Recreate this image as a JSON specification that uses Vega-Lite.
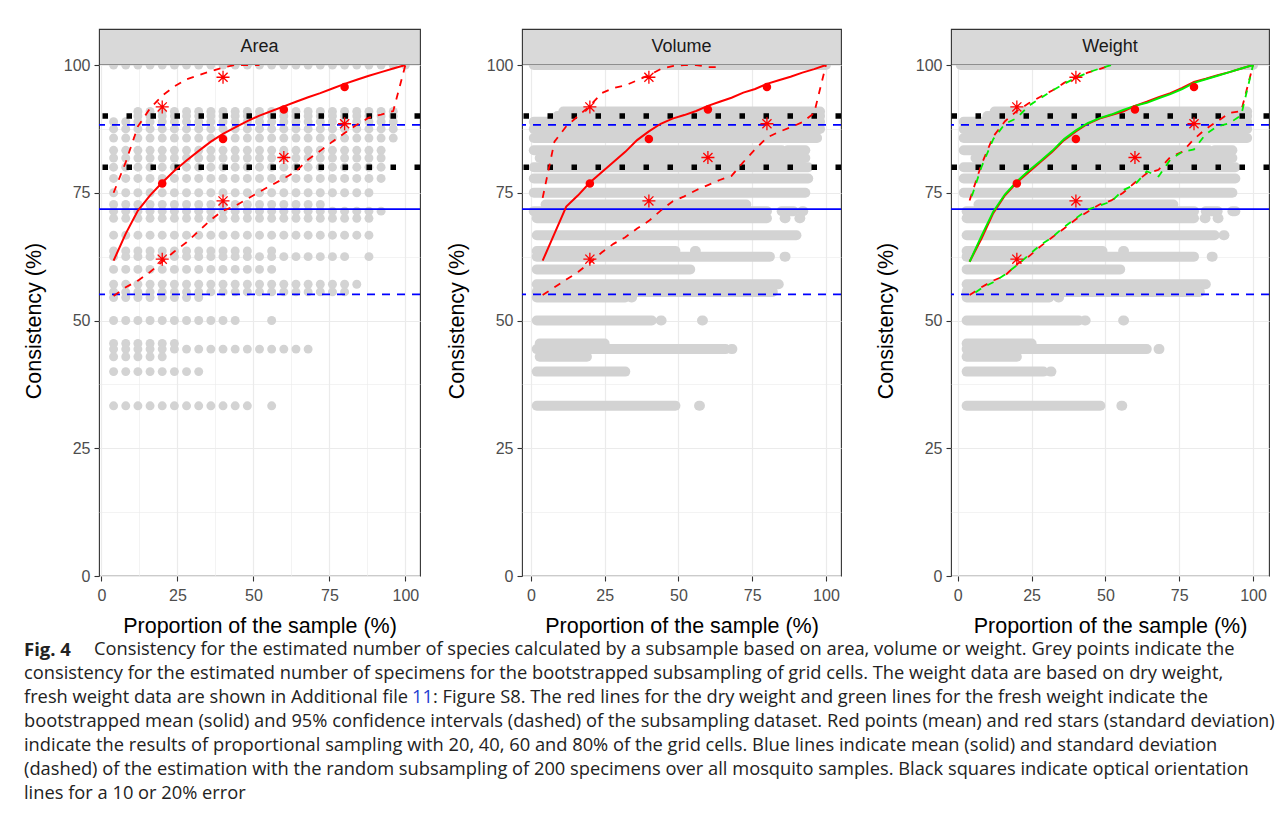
{
  "$schema": "https://vega.github.io/schema/vega-lite/v6.json",
  "background": "white",
  "padding": {"left": 22, "top": 28, "right": 0, "bottom": 0},
  "config": {
    "view": {"stroke": "#333333", "strokeWidth": 1.1},
    "axis": {"domain": false, "gridColor": "#ebebeb", "tickColor": "#333333", "tickSize": 5, "tickWidth": 1.1, "labelFont": "Liberation Sans", "labelFontSize": 16, "labelColor": "#4d4d4d", "labelFlush": false, "titleFont": "Liberation Sans", "titleFontSize": 21.5, "titleFontWeight": "normal", "titleColor": "#000000"},
    "axisY": {"titlePadding": 18, "labelPadding": 4},
    "axisX": {"titlePadding": 12, "labelPadding": 6}
  },
  "datasets": {
    "areaPts": [
      {"c": 100, "x": [4,8,12,16,20,24,28,32,36,40,44,48,52,56,60,64,68,72,76,80,84,88,92,96,100]},
      {"c": 90.9, "x": [12,16,20,24,28,32,36,40,44,48,52,56,60,64,68,72,76,80,84,88,92,96]},
      {"c": 90, "x": [12,16,20,24,28,32,36,40,44,48,52,56,60,64,68,72,76,80,84,88,92,96]},
      {"c": 88.9, "x": [4,8,12,16,20,24,28,32,36,40,44,48,52,56,60,64,68,72,76,80,84,88,92,96]},
      {"c": 87.5, "x": [4,8,12,16,20,24,28,32,36,40,44,48,52,56,60,64,68,72,76,80,84,88,92,96]},
      {"c": 85.7, "x": [4,8,12,16,20,24,28,32,36,40,44,48,52,56,60,64,68,72,76,80,84,88,92,96]},
      {"c": 83.3, "x": [4,8,12,16,20,24,28,32,36,40,44,48,52,56,60,64,68,72,76,80,84,88,92]},
      {"c": 81.8, "x": [4,8,12,16,20,24,28,32,36,40,44,48,52,56,60,64,68,72,76,80,84,88,92]},
      {"c": 80, "x": [4,8,12,16,20,24,28,32,36,40,44,48,52,56,60,64,68,72,76,80,84,88,92]},
      {"c": 77.8, "x": [4,8,12,16,20,24,28,32,36,40,44,48,52,56,60,64,68,72,76,80,84,88,92]},
      {"c": 75, "x": [4,8,12,16,20,24,28,32,36,40,44,48,52,56,60,64,68,72,76,80,84,88]},
      {"c": 72.7, "x": [4,8,12,16,20,24,28,32,36,40,44,48,52,56,60,64,68,72]},
      {"c": 71.4, "x": [4,8,12,16,20,24,28,32,36,40,44,48,52,56,60,64,68,72,76,80,84,88,92]},
      {"c": 70, "x": [4,8,12,16,20,24,28,32,36,40,44,48,52,56,60,64,68,72,76,80,84,88]},
      {"c": 66.7, "x": [4,8,12,16,20,24,28,32,36,40,44,48,52,56,60,64,68,72,76,80,84,88]},
      {"c": 63.6, "x": [4,8,12,16,20,24,28,32,36,40,44,48,56]},
      {"c": 62.5, "x": [4,8,12,16,20,24,28,32,36,40,44,48,52,56,60,64,68,72,76,80,88]},
      {"c": 60, "x": [4,8,12,16,20,24,28,32,36,40,44,48,52,56]},
      {"c": 57.1, "x": [4,8,12,16,20,24,28,32,36,40,44,48,52,56,60,64,68,72,76,80,84]},
      {"c": 55.6, "x": [4,8,12,16,20,24,28,32,36,40,44,48,52,56,60,64,68,72,76,80]},
      {"c": 54.5, "x": [4,8,12,16,20,24,28,32]},
      {"c": 50, "x": [4,8,12,16,20,24,28,32,36,40,44,56]},
      {"c": 45.5, "x": [4,8,12,16,20,24]},
      {"c": 44.4, "x": [4,8,12,16,20,24,28,32,36,40,44,48,52,56,60,64,68]},
      {"c": 42.9, "x": [4,8,12,16,20]},
      {"c": 40, "x": [4,8,12,16,20,24,28,32]},
      {"c": 33.3, "x": [4,8,12,16,20,24,28,32,36,40,44,48,56]}
    ],
    "volStreaks": [
      {"c": 100, "x": 1, "x2": 100},
      {"c": 90.9, "x": 11, "x2": 98},
      {"c": 90, "x": 9, "x2": 98},
      {"c": 88.9, "x": 1, "x2": 98},
      {"c": 87.5, "x": 1, "x2": 98},
      {"c": 85.7, "x": 1, "x2": 97},
      {"c": 83.3, "x": 1, "x2": 85},
      {"c": 83.3, "x": 87, "x2": 93},
      {"c": 81.8, "x": 3, "x2": 93},
      {"c": 80, "x": 1, "x2": 94},
      {"c": 77.8, "x": 1, "x2": 94},
      {"c": 75, "x": 1, "x2": 93},
      {"c": 72.7, "x": 5, "x2": 73},
      {"c": 71.4, "x": 1, "x2": 80},
      {"c": 71.4, "x": 85, "x2": 89},
      {"c": 71.4, "x": 92, "x2": 92.3},
      {"c": 70, "x": 2, "x2": 80},
      {"c": 70, "x": 86, "x2": 86.3},
      {"c": 70, "x": 91, "x2": 91.3},
      {"c": 66.7, "x": 2, "x2": 90},
      {"c": 63.6, "x": 2, "x2": 49},
      {"c": 63.6, "x": 55.6, "x2": 55.9},
      {"c": 62.5, "x": 2, "x2": 81},
      {"c": 62.5, "x": 86, "x2": 86.3},
      {"c": 60, "x": 2, "x2": 54},
      {"c": 57.1, "x": 2, "x2": 84},
      {"c": 55.6, "x": 2, "x2": 82},
      {"c": 54.5, "x": 2, "x2": 32},
      {"c": 54.5, "x": 34, "x2": 34.3},
      {"c": 50, "x": 2, "x2": 41},
      {"c": 50, "x": 44, "x2": 44.3},
      {"c": 50, "x": 58, "x2": 58.3},
      {"c": 45.5, "x": 3, "x2": 25},
      {"c": 44.4, "x": 2, "x2": 66},
      {"c": 44.4, "x": 68, "x2": 68.3},
      {"c": 42.9, "x": 3, "x2": 19},
      {"c": 40, "x": 2, "x2": 32},
      {"c": 33.3, "x": 2, "x2": 49},
      {"c": 33.3, "x": 57, "x2": 57.3}
    ],
    "wtStreaks": [
      {"c": 100, "x": 1, "x2": 100},
      {"c": 90.9, "x": 12.5, "x2": 98},
      {"c": 90, "x": 10, "x2": 98},
      {"c": 88.9, "x": 2, "x2": 98},
      {"c": 87.5, "x": 2, "x2": 98},
      {"c": 85.7, "x": 2, "x2": 98},
      {"c": 83.3, "x": 2, "x2": 85},
      {"c": 83.3, "x": 87, "x2": 93},
      {"c": 81.8, "x": 6, "x2": 93},
      {"c": 80, "x": 2, "x2": 94},
      {"c": 77.8, "x": 2, "x2": 94},
      {"c": 75, "x": 2, "x2": 93},
      {"c": 72.7, "x": 7, "x2": 73},
      {"c": 71.4, "x": 3, "x2": 80},
      {"c": 71.4, "x": 84, "x2": 88},
      {"c": 71.4, "x": 93, "x2": 94},
      {"c": 70, "x": 3, "x2": 80},
      {"c": 70, "x": 83.6, "x2": 83.9},
      {"c": 70, "x": 88, "x2": 88.3},
      {"c": 66.7, "x": 3, "x2": 87},
      {"c": 66.7, "x": 90, "x2": 90.3},
      {"c": 63.6, "x": 3, "x2": 49},
      {"c": 63.6, "x": 56, "x2": 56.3},
      {"c": 62.5, "x": 3, "x2": 80},
      {"c": 62.5, "x": 86, "x2": 86.3},
      {"c": 60, "x": 3, "x2": 55},
      {"c": 57.1, "x": 3, "x2": 84},
      {"c": 55.6, "x": 3, "x2": 82},
      {"c": 54.5, "x": 3, "x2": 31},
      {"c": 54.5, "x": 34, "x2": 34.3},
      {"c": 50, "x": 3, "x2": 41},
      {"c": 50, "x": 43, "x2": 43.3},
      {"c": 50, "x": 56, "x2": 56.3},
      {"c": 45.5, "x": 3, "x2": 25},
      {"c": 44.4, "x": 3, "x2": 64},
      {"c": 44.4, "x": 68, "x2": 68.3},
      {"c": 42.9, "x": 3, "x2": 20},
      {"c": 40, "x": 3, "x2": 29},
      {"c": 40, "x": 31.4, "x2": 31.7},
      {"c": 33.3, "x": 3, "x2": 48.3},
      {"c": 33.3, "x": 55.4, "x2": 55.7}
    ],
    "lines": [
      {"p": "Area", "g": "dry", "s": "mean", "x": [4,8,12,16,20,24,28,32,36,40,44,48,52,56,60,64,68,72,76,80,84,88,92,96,100], "c": [61.7,67,71.5,74.5,77,79.3,81.3,83.2,85,86.5,87.8,89,90.1,91,91.9,92.8,93.7,94.5,95.4,96.3,97.1,97.9,98.6,99.3,100]},
      {"p": "Area", "g": "dry", "s": "upper", "x": [4,8,12,16,20,24,28,32,36,40,44,48,52], "c": [75,81,88,91.5,94,95.8,97.2,98,98.8,99.5,100,100,100]},
      {"p": "Area", "g": "dry", "s": "lower", "x": [4,8,12,16,20,24,28,32,36,40,44,48,52,56,60,64,68,72,76,80,84,88,92,96,100], "c": [54.8,56.5,57.8,59.5,61.5,63.5,65.3,67.5,69.7,71.5,72.4,73.8,75.2,76.5,77.8,79.2,81.5,83.2,85,86.7,88.3,89.7,90.3,91,100]},
      {"p": "Volume", "g": "dry", "s": "mean", "x": [4,8,12,16,20,24,28,32,36,40,44,48,52,56,60,64,68,72,76,80,84,88,92,96,100], "c": [61.7,67,72.3,74.5,77,79,81,83,85.3,87,88.5,89.5,90.2,91,92,92.8,93.6,94.6,95.3,96.3,97,97.7,98.5,99.2,100]},
      {"p": "Volume", "g": "dry", "s": "upper", "x": [4,8,12,16,20,24,28,32,36,40,44,48,52,56,60,64], "c": [74,85,88,90,92,94.5,95.5,96,97,98,99.2,99.8,100,100,99.6,99.6]},
      {"p": "Volume", "g": "dry", "s": "lower", "x": [4,8,12,16,20,24,28,32,36,40,44,48,52,56,60,64,68,72,76,80,84,88,92,96,100], "c": [55,56.5,58,59.5,61.3,63.3,65,66.3,68,69.5,71.5,73.3,74.3,75.5,76.5,77.5,78.3,81,83.5,85.8,86.9,87.8,88.8,90.6,100]},
      {"p": "Weight", "g": "dry", "s": "mean", "x": [4,8,12,16,20,24,28,32,36,40,44,48,52,56,60,64,68,72,76,80,84,88,92,96,100], "c": [61.5,66,71,74.5,77,79,81,83,85.3,87,88.5,89.5,90.2,90.9,92,92.8,93.7,94.5,95.5,96.7,97.3,98,98.6,99.3,100]},
      {"p": "Weight", "g": "dry", "s": "upper", "x": [4,8,12,16,20,24,28,32,36,40,44,48,52], "c": [73.5,80.5,86,89,91,92.5,93.8,95,96.5,97.7,98.5,99.2,100]},
      {"p": "Weight", "g": "dry", "s": "lower", "x": [4,8,12,16,20,24,28,32,36,40,44,48,52,56,60,64,68,72,76,80,84,88,92,96,100], "c": [55,56.5,57.8,58.8,61,62.5,64.5,66.3,68,69.8,71.3,72.7,73.5,75,77,78.8,79.5,82,83,85.5,87.5,89,90.6,91,100]},
      {"p": "Weight", "g": "fresh", "s": "mean", "x": [4,8,12,16,20,24,28,32,36,40,44,48,52,56,60,64,68,72,76,80,84,88,92,96,100], "c": [61.5,66.5,71.3,74.7,77.2,79.3,81.2,83.2,85.5,87.2,88.6,89.6,90.3,91.2,92,92.6,93.5,94.3,95.3,96.5,97.2,97.9,98.6,99.3,100]},
      {"p": "Weight", "g": "fresh", "s": "upper", "x": [4,8,12,16,20,24,28,32,36,40,44,48,52], "c": [73,80,85.5,88.5,89.6,92,93.5,95,96.3,97.5,98.5,99.3,100]},
      {"p": "Weight", "g": "fresh", "s": "lower", "x": [4,8,12,16,20,24,28,32,36,40,44,48,52,56,60,64,68,72,76,80,84,88,92,96,100], "c": [54.7,56.3,57.5,59,60.8,62.8,64.8,66.3,68.3,70,71.7,72.5,73.3,75.5,76.6,79.2,78.2,81.5,83,83.5,86.5,88,88.6,90.2,100]}
    ],
    "sq": [{"c": 80}, {"c": 90}],
    "blue": [{"c": 71.8, "t": "solid"}, {"c": 88.3, "t": "dashed"}, {"c": 55.1, "t": "dashed"}],
    "dots": [{"x": 20, "c": 76.8}, {"x": 40, "c": 85.5}, {"x": 60, "c": 91.3}, {"x": 80, "c": 95.7}],
    "stars": [{"x": 20, "c": 91.8}, {"x": 40, "c": 97.6}, {"x": 20, "c": 62}, {"x": 40, "c": 73.4}, {"x": 60, "c": 81.9}, {"x": 80, "c": 88.5}],
    "caption": [
      {"line": 1, "seg": "fig", "t": "Fig. 4"},
      {"line": 1, "seg": "l1", "t": "Consistency for the estimated number of species calculated by a subsample based on area, volume or weight. Grey points indicate the"},
      {"line": 2, "seg": "n", "t": "consistency for the estimated number of specimens for the bootstrapped subsampling of grid cells. The weight data are based on dry weight,"},
      {"line": 3, "seg": "n", "t": "fresh weight data are shown in Additional file"},
      {"line": 3, "seg": "link", "t": "11"},
      {"line": 3, "seg": "l3", "t": ": Figure S8. The red lines for the dry weight and green lines for the fresh weight indicate the"},
      {"line": 4, "seg": "n", "t": "bootstrapped mean (solid) and 95% confidence intervals (dashed) of the subsampling dataset. Red points (mean) and red stars (standard deviation)"},
      {"line": 5, "seg": "n", "t": "indicate the results of proportional sampling with 20, 40, 60 and 80% of the grid cells. Blue lines indicate mean (solid) and standard deviation"},
      {"line": 6, "seg": "n", "t": "(dashed) of the estimation with the random subsampling of 200 specimens over all mosquito samples. Black squares indicate optical orientation"},
      {"line": 7, "seg": "n", "t": "lines for a 10 or 20% error"}
    ]
  },
  "vconcat": [
    {
      "spacing": 21,
      "hconcat": [
        {
          "bounds": "flush",
          "spacing": 0,
          "vconcat": [
            {
              "width": 321, "height": 36,
              "view": {"fill": "#d9d9d9", "stroke": "#333333", "strokeWidth": 1.1},
              "data": {"values": [{"panel": "Area"}]},
              "mark": {"type": "text", "font": "Liberation Sans", "fontSize": 18, "color": "#1a1a1a"},
              "encoding": {"text": {"field": "panel"}}
            },
            {
              "width": 321, "height": 511,
              "layer": [
                {
                  "data": {"name": "areaPts"},
                  "transform": [{"flatten": ["x"]}],
                  "mark": {"type": "circle", "size": 80, "color": "#d3d3d3", "opacity": 1, "clip": true},
                  "encoding": {
                    "x": {"field": "x", "type": "quantitative", "scale": {"domain": [-0.8, 104.8], "nice": false, "zero": false}, "title": "Proportion of the sample (%)",
                      "axis": {"values": [0, 12.5, 25, 37.5, 50, 62.5, 75, 87.5, 100], "labelExpr": "datum.value % 25 === 0 ? datum.label : ''", "tickOpacity": {"condition": {"test": "datum.value % 25 === 0", "value": 1}, "value": 0}, "gridWidth": {"condition": {"test": "datum.value % 25 === 0", "value": 1.2}, "value": 0.6}}},
                    "y": {"field": "c", "type": "quantitative", "scale": {"domain": [0, 100], "nice": false}, "title": "Consistency (%)",
                      "axis": {"values": [0, 12.5, 25, 37.5, 50, 62.5, 75, 87.5, 100], "labelExpr": "datum.value % 25 === 0 ? datum.label : ''", "tickOpacity": {"condition": {"test": "datum.value % 25 === 0", "value": 1}, "value": 0}, "gridWidth": {"condition": {"test": "datum.value % 25 === 0", "value": 1.2}, "value": 0.6}}}
                  }
                },
                {"data": {"name": "sq"}, "mark": {"type": "rule", "color": "#000000", "strokeWidth": 5.5, "strokeDash": [5.5, 18.5]}, "encoding": {"y": {"field": "c", "type": "quantitative"}}},
                {"data": {"name": "blue"}, "transform": [{"filter": "datum.t === 'solid'"}], "mark": {"type": "rule", "color": "#0000ff", "strokeWidth": 1.8}, "encoding": {"y": {"field": "c", "type": "quantitative"}}},
                {"data": {"name": "blue"}, "transform": [{"filter": "datum.t === 'dashed'"}], "mark": {"type": "rule", "color": "#0000ff", "strokeWidth": 1.8, "strokeDash": [8, 7]}, "encoding": {"y": {"field": "c", "type": "quantitative"}}},
                {"data": {"name": "lines"}, "transform": [{"filter": "datum.p === 'Area' && datum.g === 'dry' && datum.s !== 'mean'"}, {"flatten": ["x", "c"]}], "mark": {"type": "line", "color": "#ff0000", "strokeWidth": 1.8, "strokeDash": [7, 7], "clip": true}, "encoding": {"x": {"field": "x", "type": "quantitative"}, "y": {"field": "c", "type": "quantitative"}, "detail": {"field": "s"}}},
                {"data": {"name": "lines"}, "transform": [{"filter": "datum.p === 'Area' && datum.g === 'dry' && datum.s === 'mean'"}, {"flatten": ["x", "c"]}], "mark": {"type": "line", "color": "#ff0000", "strokeWidth": 2, "clip": true}, "encoding": {"x": {"field": "x", "type": "quantitative"}, "y": {"field": "c", "type": "quantitative"}}},
                {"data": {"name": "dots"}, "mark": {"type": "circle", "size": 72, "color": "#ff0000", "opacity": 1}, "encoding": {"x": {"field": "x", "type": "quantitative"}, "y": {"field": "c", "type": "quantitative"}}},
                {"data": {"name": "stars"}, "mark": {"type": "point", "shape": "M0,-1L0,1M-1,0L1,0M-0.7,-0.7L0.7,0.7M-0.7,0.7L0.7,-0.7", "size": 170, "filled": false, "stroke": "#ff0000", "strokeWidth": 1.3, "opacity": 1}, "encoding": {"x": {"field": "x", "type": "quantitative"}, "y": {"field": "c", "type": "quantitative"}}}
              ]
            }
          ]
        },
        {
          "spacing": 29,
          "hconcat": [
            {
              "bounds": "flush",
              "spacing": 0,
              "vconcat": [
                {
                  "width": 319, "height": 36,
                  "view": {"fill": "#d9d9d9", "stroke": "#333333", "strokeWidth": 1.1},
                  "data": {"values": [{"panel": "Volume"}]},
                  "mark": {"type": "text", "font": "Liberation Sans", "fontSize": 18, "color": "#1a1a1a"},
                  "encoding": {"text": {"field": "panel"}}
                },
                {
                  "width": 319, "height": 511,
                  "layer": [
                    {
                      "data": {"name": "volStreaks"},
                      "mark": {"type": "rule", "strokeWidth": 10, "strokeCap": "round", "color": "#d3d3d3", "clip": true},
                      "encoding": {
                        "x": {"field": "x", "type": "quantitative", "scale": {"domain": [-3, 105.1], "nice": false, "zero": false}, "title": "Proportion of the sample (%)",
                          "axis": {"values": [0, 12.5, 25, 37.5, 50, 62.5, 75, 87.5, 100], "labelExpr": "datum.value % 25 === 0 ? datum.label : ''", "tickOpacity": {"condition": {"test": "datum.value % 25 === 0", "value": 1}, "value": 0}, "gridWidth": {"condition": {"test": "datum.value % 25 === 0", "value": 1.2}, "value": 0.6}}},
                        "x2": {"field": "x2"},
                        "y": {"field": "c", "type": "quantitative", "scale": {"domain": [0, 100], "nice": false}, "title": "Consistency (%)",
                          "axis": {"values": [0, 12.5, 25, 37.5, 50, 62.5, 75, 87.5, 100], "labelExpr": "datum.value % 25 === 0 ? datum.label : ''", "tickOpacity": {"condition": {"test": "datum.value % 25 === 0", "value": 1}, "value": 0}, "gridWidth": {"condition": {"test": "datum.value % 25 === 0", "value": 1.2}, "value": 0.6}}}
                      }
                    },
                    {"data": {"name": "sq"}, "mark": {"type": "rule", "color": "#000000", "strokeWidth": 5.5, "strokeDash": [5.5, 18.5]}, "encoding": {"y": {"field": "c", "type": "quantitative"}}},
                    {"data": {"name": "blue"}, "transform": [{"filter": "datum.t === 'solid'"}], "mark": {"type": "rule", "color": "#0000ff", "strokeWidth": 1.8}, "encoding": {"y": {"field": "c", "type": "quantitative"}}},
                    {"data": {"name": "blue"}, "transform": [{"filter": "datum.t === 'dashed'"}], "mark": {"type": "rule", "color": "#0000ff", "strokeWidth": 1.8, "strokeDash": [8, 7]}, "encoding": {"y": {"field": "c", "type": "quantitative"}}},
                    {"data": {"name": "lines"}, "transform": [{"filter": "datum.p === 'Volume' && datum.g === 'dry' && datum.s !== 'mean'"}, {"flatten": ["x", "c"]}], "mark": {"type": "line", "color": "#ff0000", "strokeWidth": 1.8, "strokeDash": [7, 7], "clip": true}, "encoding": {"x": {"field": "x", "type": "quantitative"}, "y": {"field": "c", "type": "quantitative"}, "detail": {"field": "s"}}},
                    {"data": {"name": "lines"}, "transform": [{"filter": "datum.p === 'Volume' && datum.g === 'dry' && datum.s === 'mean'"}, {"flatten": ["x", "c"]}], "mark": {"type": "line", "color": "#ff0000", "strokeWidth": 2, "clip": true}, "encoding": {"x": {"field": "x", "type": "quantitative"}, "y": {"field": "c", "type": "quantitative"}}},
                    {"data": {"name": "dots"}, "mark": {"type": "circle", "size": 72, "color": "#ff0000", "opacity": 1}, "encoding": {"x": {"field": "x", "type": "quantitative"}, "y": {"field": "c", "type": "quantitative"}}},
                    {"data": {"name": "stars"}, "mark": {"type": "point", "shape": "M0,-1L0,1M-1,0L1,0M-0.7,-0.7L0.7,0.7M-0.7,0.7L0.7,-0.7", "size": 170, "filled": false, "stroke": "#ff0000", "strokeWidth": 1.3, "opacity": 1}, "encoding": {"x": {"field": "x", "type": "quantitative"}, "y": {"field": "c", "type": "quantitative"}}}
                  ]
                }
              ]
            },
            {
              "bounds": "flush",
              "spacing": 0,
              "vconcat": [
                {
                  "width": 318, "height": 36,
                  "view": {"fill": "#d9d9d9", "stroke": "#333333", "strokeWidth": 1.1},
                  "data": {"values": [{"panel": "Weight"}]},
                  "mark": {"type": "text", "font": "Liberation Sans", "fontSize": 18, "color": "#1a1a1a"},
                  "encoding": {"text": {"field": "panel"}}
                },
                {
                  "width": 318, "height": 511,
                  "layer": [
                    {
                      "data": {"name": "wtStreaks"},
                      "mark": {"type": "rule", "strokeWidth": 10, "strokeCap": "round", "color": "#d3d3d3", "clip": true},
                      "encoding": {
                        "x": {"field": "x", "type": "quantitative", "scale": {"domain": [-2.3, 105.4], "nice": false, "zero": false}, "title": "Proportion of the sample (%)",
                          "axis": {"values": [0, 12.5, 25, 37.5, 50, 62.5, 75, 87.5, 100], "labelExpr": "datum.value % 25 === 0 ? datum.label : ''", "tickOpacity": {"condition": {"test": "datum.value % 25 === 0", "value": 1}, "value": 0}, "gridWidth": {"condition": {"test": "datum.value % 25 === 0", "value": 1.2}, "value": 0.6}}},
                        "x2": {"field": "x2"},
                        "y": {"field": "c", "type": "quantitative", "scale": {"domain": [0, 100], "nice": false}, "title": "Consistency (%)",
                          "axis": {"values": [0, 12.5, 25, 37.5, 50, 62.5, 75, 87.5, 100], "labelExpr": "datum.value % 25 === 0 ? datum.label : ''", "tickOpacity": {"condition": {"test": "datum.value % 25 === 0", "value": 1}, "value": 0}, "gridWidth": {"condition": {"test": "datum.value % 25 === 0", "value": 1.2}, "value": 0.6}}}
                      }
                    },
                    {"data": {"name": "sq"}, "mark": {"type": "rule", "color": "#000000", "strokeWidth": 5.5, "strokeDash": [5.5, 18.5]}, "encoding": {"y": {"field": "c", "type": "quantitative"}}},
                    {"data": {"name": "blue"}, "transform": [{"filter": "datum.t === 'solid'"}], "mark": {"type": "rule", "color": "#0000ff", "strokeWidth": 1.8}, "encoding": {"y": {"field": "c", "type": "quantitative"}}},
                    {"data": {"name": "blue"}, "transform": [{"filter": "datum.t === 'dashed'"}], "mark": {"type": "rule", "color": "#0000ff", "strokeWidth": 1.8, "strokeDash": [8, 7]}, "encoding": {"y": {"field": "c", "type": "quantitative"}}},
                    {"data": {"name": "lines"}, "transform": [{"filter": "datum.p === 'Weight' && datum.g === 'dry' && datum.s !== 'mean'"}, {"flatten": ["x", "c"]}], "mark": {"type": "line", "color": "#ff0000", "strokeWidth": 1.8, "strokeDash": [7, 7], "clip": true}, "encoding": {"x": {"field": "x", "type": "quantitative"}, "y": {"field": "c", "type": "quantitative"}, "detail": {"field": "s"}}},
                    {"data": {"name": "lines"}, "transform": [{"filter": "datum.p === 'Weight' && datum.g === 'dry' && datum.s === 'mean'"}, {"flatten": ["x", "c"]}], "mark": {"type": "line", "color": "#ff0000", "strokeWidth": 2, "clip": true}, "encoding": {"x": {"field": "x", "type": "quantitative"}, "y": {"field": "c", "type": "quantitative"}}},
                    {"data": {"name": "lines"}, "transform": [{"filter": "datum.p === 'Weight' && datum.g === 'fresh' && datum.s !== 'mean'"}, {"flatten": ["x", "c"]}], "mark": {"type": "line", "color": "#00ee00", "strokeWidth": 1.8, "strokeDash": [7, 7], "strokeDashOffset": 7, "clip": true}, "encoding": {"x": {"field": "x", "type": "quantitative"}, "y": {"field": "c", "type": "quantitative"}, "detail": {"field": "s"}}},
                    {"data": {"name": "lines"}, "transform": [{"filter": "datum.p === 'Weight' && datum.g === 'fresh' && datum.s === 'mean'"}, {"flatten": ["x", "c"]}], "mark": {"type": "line", "color": "#00ee00", "strokeWidth": 2, "clip": true}, "encoding": {"x": {"field": "x", "type": "quantitative"}, "y": {"field": "c", "type": "quantitative"}}},
                    {"data": {"name": "dots"}, "mark": {"type": "circle", "size": 72, "color": "#ff0000", "opacity": 1}, "encoding": {"x": {"field": "x", "type": "quantitative"}, "y": {"field": "c", "type": "quantitative"}}},
                    {"data": {"name": "stars"}, "mark": {"type": "point", "shape": "M0,-1L0,1M-1,0L1,0M-0.7,-0.7L0.7,0.7M-0.7,0.7L0.7,-0.7", "size": 170, "filled": false, "stroke": "#ff0000", "strokeWidth": 1.3, "opacity": 1}, "encoding": {"x": {"field": "x", "type": "quantitative"}, "y": {"field": "c", "type": "quantitative"}}}
                  ]
                }
              ]
            }
          ]
        }
      ]
    },
    {
      "width": 1180, "height": 168,
      "view": {"stroke": null},
      "data": {"name": "caption"},
      "encoding": {
        "x": {"datum": 0, "type": "quantitative", "scale": {"domain": [0, 1]}, "axis": null},
        "y": {"field": "line", "type": "quantitative", "scale": {"domain": [0.5, 7.5], "reverse": true, "nice": false, "zero": false}, "axis": null},
        "text": {"field": "t"}
      },
      "layer": [
        {"transform": [{"filter": "datum.seg === 'fig'"}], "mark": {"type": "text", "align": "left", "baseline": "middle", "font": "Open Sans", "fontSize": 18.5, "fontWeight": "bold", "color": "#222222", "dx": -75}},
        {"transform": [{"filter": "datum.seg === 'l1'"}], "mark": {"type": "text", "align": "left", "baseline": "middle", "font": "Open Sans", "fontSize": 18.3, "color": "#222222", "dx": -5}},
        {"transform": [{"filter": "datum.seg === 'n'"}], "mark": {"type": "text", "align": "left", "baseline": "middle", "font": "Open Sans", "fontSize": 18.3, "color": "#222222", "dx": -75}},
        {"transform": [{"filter": "datum.seg === 'link'"}], "mark": {"type": "text", "align": "left", "baseline": "middle", "font": "Open Sans", "fontSize": 18.3, "color": "#1f3fd1", "dx": 313}},
        {"transform": [{"filter": "datum.seg === 'l3'"}], "mark": {"type": "text", "align": "left", "baseline": "middle", "font": "Open Sans", "fontSize": 18.3, "color": "#222222", "dx": 334}}
      ]
    }
  ],
  "spacing": 0
}
